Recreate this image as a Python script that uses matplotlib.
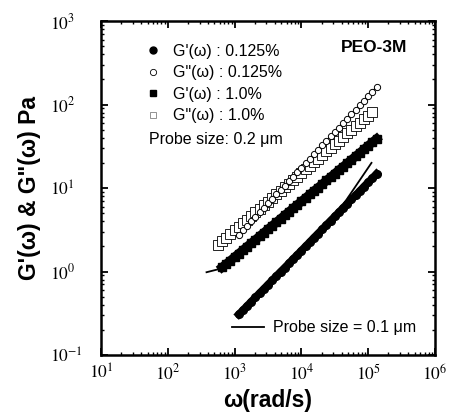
import numpy as np
import matplotlib.pyplot as plt
from matplotlib.lines import Line2D

# frecuencias (rad/s) comunes a todas las series
omega = [562, 649, 750, 866, 1000, 1155, 1334, 1540, 1778, 2054, 2371, 2738,
         3162, 3652, 4217, 4870, 5623, 6494, 7499, 8660, 10000, 11550, 13340,
         15400, 17780, 20540, 23710, 27380, 31620, 36520, 42170, 48700, 56230,
         64940, 74990, 86600, 100000, 115500, 133400]

# G' 0.125 % (circulos llenos), omega[5:]
gp_0125 = [0.306, 0.344, 0.387, 0.436, 0.490, 0.551, 0.619, 0.697, 0.783, 0.881,
           0.991, 1.11, 1.25, 1.41, 1.58, 1.78, 2.00, 2.25, 2.54, 2.85, 3.21,
           3.61, 4.06, 4.56, 5.13, 5.77, 6.49, 7.29, 8.20, 9.23, 10.4, 11.7,
           13.1, 14.8]
# G'' 0.125 % (circulos abiertos), omega[5:]
gpp_0125 = [2.75, 3.12, 3.52, 3.99, 4.51, 5.11, 5.77, 6.53, 7.38, 8.36, 9.44,
            10.7, 12.1, 13.7, 15.5, 17.5, 19.8, 22.4, 25.3, 28.6, 32.4, 36.6,
            41.4, 46.9, 53.0, 60.0, 67.8, 76.7, 86.7, 98.2, 111, 126, 142, 161]
# G' 1.0 % (cuadrados llenos), omega[1:]
gp_10 = [1.12, 1.23, 1.35, 1.49, 1.64, 1.80, 1.99, 2.18, 2.40, 2.65, 2.91, 3.21,
         3.53, 3.88, 4.28, 4.71, 5.18, 5.70, 6.28, 6.90, 7.60, 8.36, 9.20, 10.1,
         11.1, 12.3, 13.5, 14.9, 16.4, 18.0, 19.8, 21.8, 24.0, 26.4, 29.1, 32.1,
         35.2, 38.8]
# G'' 1.0 % (cuadrados abiertos), omega[:-1]
gpp_10 = [2.09, 2.31, 2.55, 2.81, 3.10, 3.43, 3.78, 4.18, 4.61, 5.09, 5.62, 6.21,
          6.85, 7.57, 8.36, 9.23, 10.2, 11.2, 12.4, 13.7, 15.1, 16.7, 18.5, 20.4,
          22.5, 24.8, 27.4, 30.3, 33.4, 36.9, 40.7, 45.0, 49.7, 54.8, 60.5, 66.8,
          73.8, 81.5]

# sonda 0.1 um (lineas finas)
probe_w = [[380, 560, 133400], [1155, 31620, 112000], [1155, 133400], [562, 115500]]
probe_g = [[0.98, 1.06, 38], [0.31, 4.5, 20], [2.75, 161], [2.09, 81.5]]

plt.rcParams['mathtext.fontset'] = 'stix'
plt.rcParams['font.family'] = ['Liberation Sans', 'DejaVu Sans']

fig = plt.figure(figsize=(4.54, 4.17), dpi=100)
ax = fig.add_axes([101/454, 1-355/417, 334/454, 334/417])

for w, g in zip(probe_w, probe_g):
    ax.plot(w, g, color='black', lw=1.3, zorder=2)

ax.plot(omega[1:], gp_10, 's-', color='black', ms=6, lw=6.5, zorder=3)
ax.plot(omega[5:], gp_0125, 'o-', color='black', ms=5.5, lw=5.5, zorder=3)
ax.plot(omega[:-1], gpp_10, 's', mfc='white', mec='black', ms=6.5, mew=0.6, zorder=4)
ax.plot(omega[5:], gpp_0125, 'o', mfc='white', mec='black', ms=4.5, mew=0.7, zorder=5)

ax.set_xscale('log')
ax.set_yscale('log')
ax.set_xlim(1e1, 1e6)
ax.set_ylim(1e-1, 1e3)

for s in ax.spines.values():
    s.set_linewidth(1.8)
ax.tick_params(which='both', direction='in', top=True, right=True)
ax.tick_params(which='major', length=5, width=1.3)
ax.tick_params(which='minor', length=2.5, width=1.0)
ax.tick_params(axis='x', labelsize=12.5, pad=6)
ax.tick_params(axis='y', labelsize=12.5, pad=37)
for lab in ax.get_xticklabels() + ax.get_yticklabels():
    lab.set_family('STIXGeneral')
for lab in ax.get_yticklabels():
    lab.set_ha('left')

ax.set_xlabel('ω(rad/s)', fontsize=16.5, fontweight='bold', labelpad=4)
ax.set_ylabel('G\'(ω) & G"(ω) Pa', fontsize=16.5, fontweight='bold', labelpad=6)

handles = [
    Line2D([], [], ls='none', marker='o', color='black', ms=5),
    Line2D([], [], ls='none', marker='o', mfc='white', mec='black', ms=4.5, mew=0.6),
    Line2D([], [], ls='none', marker='s', color='black', ms=5),
    Line2D([], [], ls='none', marker='s', mfc='white', mec='gray', ms=4.5, mew=0.6),
]
labels = ["G'(ω) : 0.125%", 'G"(ω) : 0.125%', "G'(ω) : 1.0%", 'G"(ω) : 1.0%']
leg = ax.legend(handles, labels, loc='upper left', bbox_to_anchor=(0.132, 0.931),
                frameon=False, fontsize=11.5, handlelength=1.0, handletextpad=0.75,
                labelspacing=0.4, borderpad=0, borderaxespad=0)
ax.add_artist(leg)

ax.text(0.144, 0.644, 'Probe size: 0.2 μm', transform=ax.transAxes, fontsize=11.5,
        va='center', ha='left')
ax.text(0.817, 0.922, 'PEO-3M', transform=ax.transAxes, fontsize=12.5,
        fontweight='bold', ha='center', va='center')

ax.legend([Line2D([], [], color='black', lw=1.3)], ['Probe size = 0.1 μm'],
          loc='center left', bbox_to_anchor=(0.392, 0.081), frameon=False,
          fontsize=11.5, handlelength=2.0, handletextpad=0.55, borderpad=0,
          borderaxespad=0)

fig.savefig('out.png', dpi=100)
